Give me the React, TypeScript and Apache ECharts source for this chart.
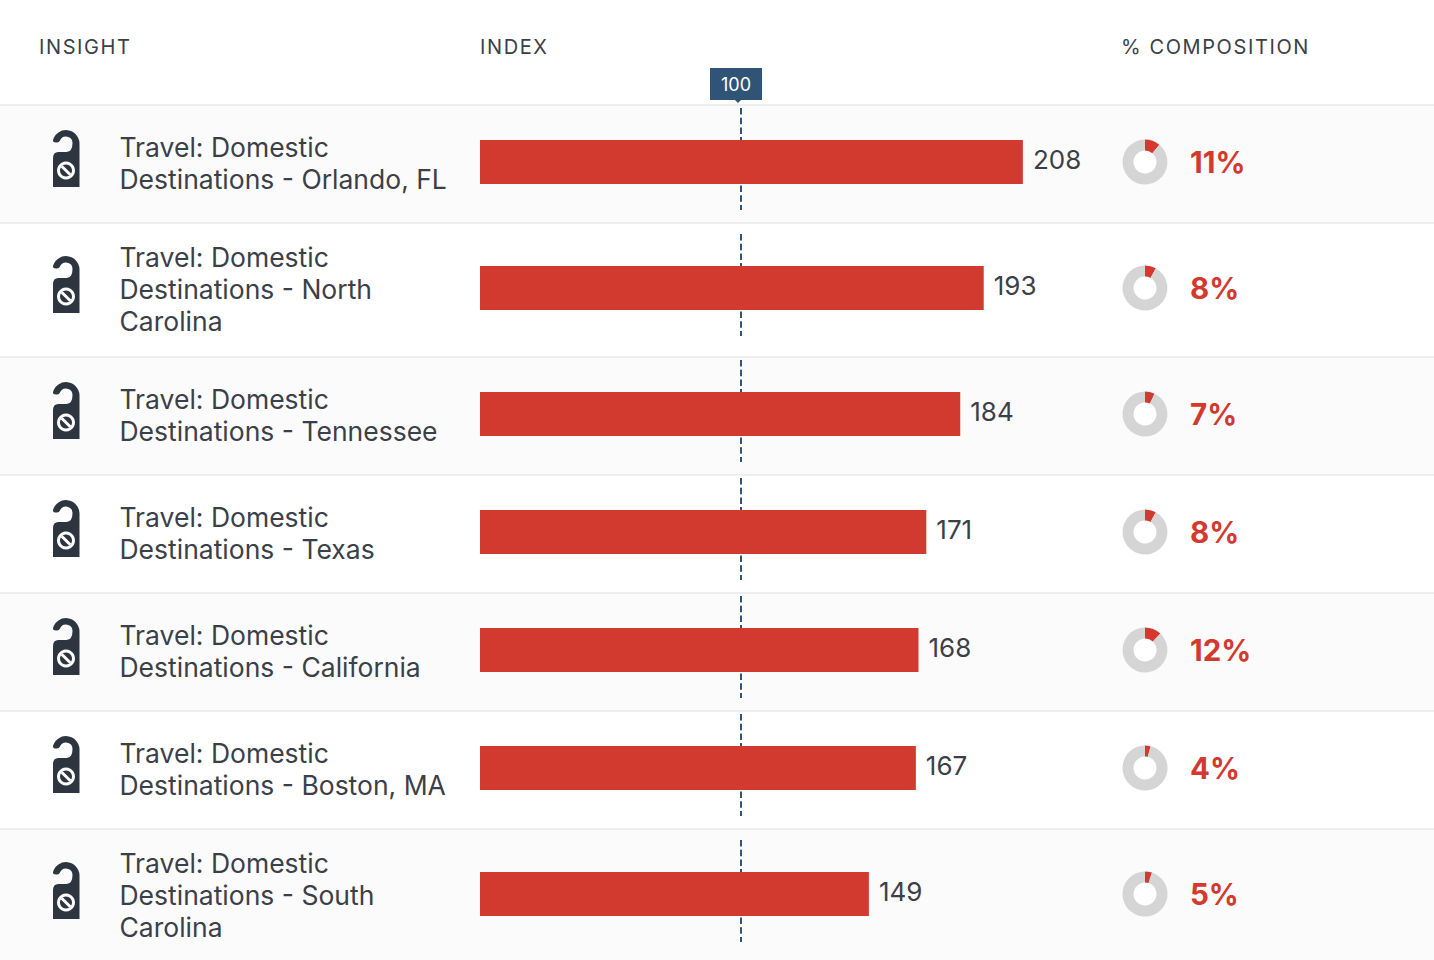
import React, { useEffect, useRef } from "react";
import * as echarts from "echarts";

const insights = [
  "Travel: Domestic\nDestinations - Orlando, FL",
  "Travel: Domestic\nDestinations - North\nCarolina",
  "Travel: Domestic\nDestinations - Tennessee",
  "Travel: Domestic\nDestinations - Texas",
  "Travel: Domestic\nDestinations - California",
  "Travel: Domestic\nDestinations - Boston, MA",
  "Travel: Domestic\nDestinations - South\nCarolina",
];
const indexValues = [208, 193, 184, 171, 168, 167, 149];
const compositionValues = [11, 8, 7, 8, 12, 4, 5];
const headers = ["INSIGHT", "INDEX", "% COMPOSITION"];
const benchmark = 100;

const rowTops = [105, 223, 357, 475, 593, 711, 829, 960];
const barCentres = [162, 288, 414, 532, 650, 768, 894];

const FONT = "Inter";
const RED = "#d23a2f";
const INK = "#3b4048";
const NAVY = "#2f5478";
const HANGER =
  "M0.5 10 A13.5 13.5 0 0 1 27 13 L27 57 L0.5 57 L0.5 28 Q0.5 22 6 22 L14 22 Q20 21.5 20 13 A6.5 6.5 0 0 0 7.5 10.5 Q6.5 13 3.5 12.5 Q0.2 12.5 0.5 10 Z";
echarts.graphic.registerShape("hanger", echarts.graphic.extendPath(HANGER, {}));

function buildOption() {
  const graphic: any[] = [];
  rowTops.slice(0, -1).forEach((top, i) => {
    graphic.push({
      type: "rect", z: -10, silent: true,
      shape: { x: 0, y: top, width: 1434, height: rowTops[i + 1] - top },
      style: { fill: i % 2 === 0 ? "#fbfbfb" : "#ffffff" },
    });
    graphic.push({
      type: "rect", z: -9, silent: true,
      shape: { x: 0, y: top - 1, width: 1434, height: 2 },
      style: { fill: "#eeeeee" },
    });
  });
  const headerX = [39, 480, 1121];
  headers.forEach((h, i) => {
    graphic.push({
      type: "text", x: headerX[i], y: 47, z: 5,
      style: { text: h, fill: INK, font: `400 20px ${FONT}`, verticalAlign: "middle", align: "left" },
    });
  });
  graphic.push({
    type: "rect", z: 6, shape: { x: 710, y: 68, width: 52, height: 32 }, style: { fill: NAVY },
  });
  graphic.push({
    type: "polygon", z: 6, shape: { points: [[735, 100], [741, 100], [738, 103]] }, style: { fill: NAVY },
  });
  graphic.push({
    type: "text", x: 736, y: 84, z: 7,
    style: { text: String(benchmark), fill: "#ffffff", font: `400 18px ${FONT}`, align: "center", verticalAlign: "middle" },
  });
  barCentres.forEach((c, i) => {
    graphic.push({
      type: "text", x: 119.5, y: c + 1, z: 5,
      style: { text: insights[i], fill: INK, font: `400 26.5px ${FONT}`, lineHeight: 32, align: "left", verticalAlign: "middle" },
    });
    graphic.push({
      type: "text", x: 1190, y: c, z: 5,
      style: { text: `${compositionValues[i]}%`, fill: RED, font: `700 29.5px ${FONT}`, align: "left", verticalAlign: "middle" },
    });
    graphic.push({ type: "circle", z: -5, shape: { cx: 1145, cy: c, r: 12 }, style: { fill: "#ffffff" } });
    graphic.push({
      type: "group", x: 52.5, y: c - 32, z: 5,
      children: [
        { type: "hanger", x: 0, y: 0, z: 5, style: { fill: "#2d3640" } },
        { type: "ring", z: 6, shape: { cx: 13.5, cy: 40.5, r: 9, r0: 6 }, style: { fill: "#ffffff" } },
        { type: "line", z: 6, shape: { x1: 9.2, y1: 36.2, x2: 17.8, y2: 44.8 }, style: { stroke: "#ffffff", lineWidth: 3 } },
      ],
    });
  });

  const grid = barCentres.map((c) => ({ left: 480, width: 626.4, top: c - 54, height: 108 }));
  const xAxis = barCentres.map((_, i) => ({ type: "value", gridIndex: i, min: 0, max: 240, show: false }));
  const yAxis = barCentres.map((_, i) => ({ type: "category", gridIndex: i, data: [insights[i]], show: false }));
  const bars = indexValues.map((v, i) => ({
    type: "bar", xAxisIndex: i, yAxisIndex: i, data: [v], barWidth: 44, z: 3, silent: true,
    itemStyle: { color: RED },
    label: {
      show: true, position: "right", distance: 10, offset: [0, -3],
      color: INK, fontFamily: FONT, fontSize: 26, fontWeight: 400,
    },
    markLine: {
      silent: true, symbol: "none", z: 1, label: { show: false },
      lineStyle: { color: NAVY, width: 2, type: [6.5, 3.2], opacity: 1 },
      data: [[
        { xAxis: benchmark, y: barCentres[i] - 54 },
        { xAxis: benchmark, y: barCentres[i] + 48 },
      ]],
    },
  }));
  const pies = compositionValues.map((v, i) => ({
    type: "pie", silent: true, radius: [11.5, 22.5], center: [1145, barCentres[i]],
    startAngle: 90, clockwise: true, label: { show: false }, labelLine: { show: false }, z: 3,
    data: [
      { value: v, itemStyle: { color: RED } },
      { value: 100 - v, itemStyle: { color: "#d5d5d5" } },
    ],
  }));
  return {
    animation: false,
    backgroundColor: "#ffffff",
    graphic,
    grid, xAxis, yAxis,
    series: [...bars, ...pies],
  };
}

export default function App() {
  const ref = useRef<HTMLDivElement>(null);
  useEffect(() => {
    document.body.style.margin = "0";
    const chart = echarts.init(ref.current!, undefined, { renderer: "svg" });
    chart.setOption(buildOption() as any);
    ref.current!.querySelectorAll("text").forEach((t) => {
      if (headers.includes(t.textContent || "")) t.style.letterSpacing = "1.6px";
    });
    return () => chart.dispose();
  }, []);
  return <div ref={ref} style={{ width: 1434, height: 960 }} />;
}
